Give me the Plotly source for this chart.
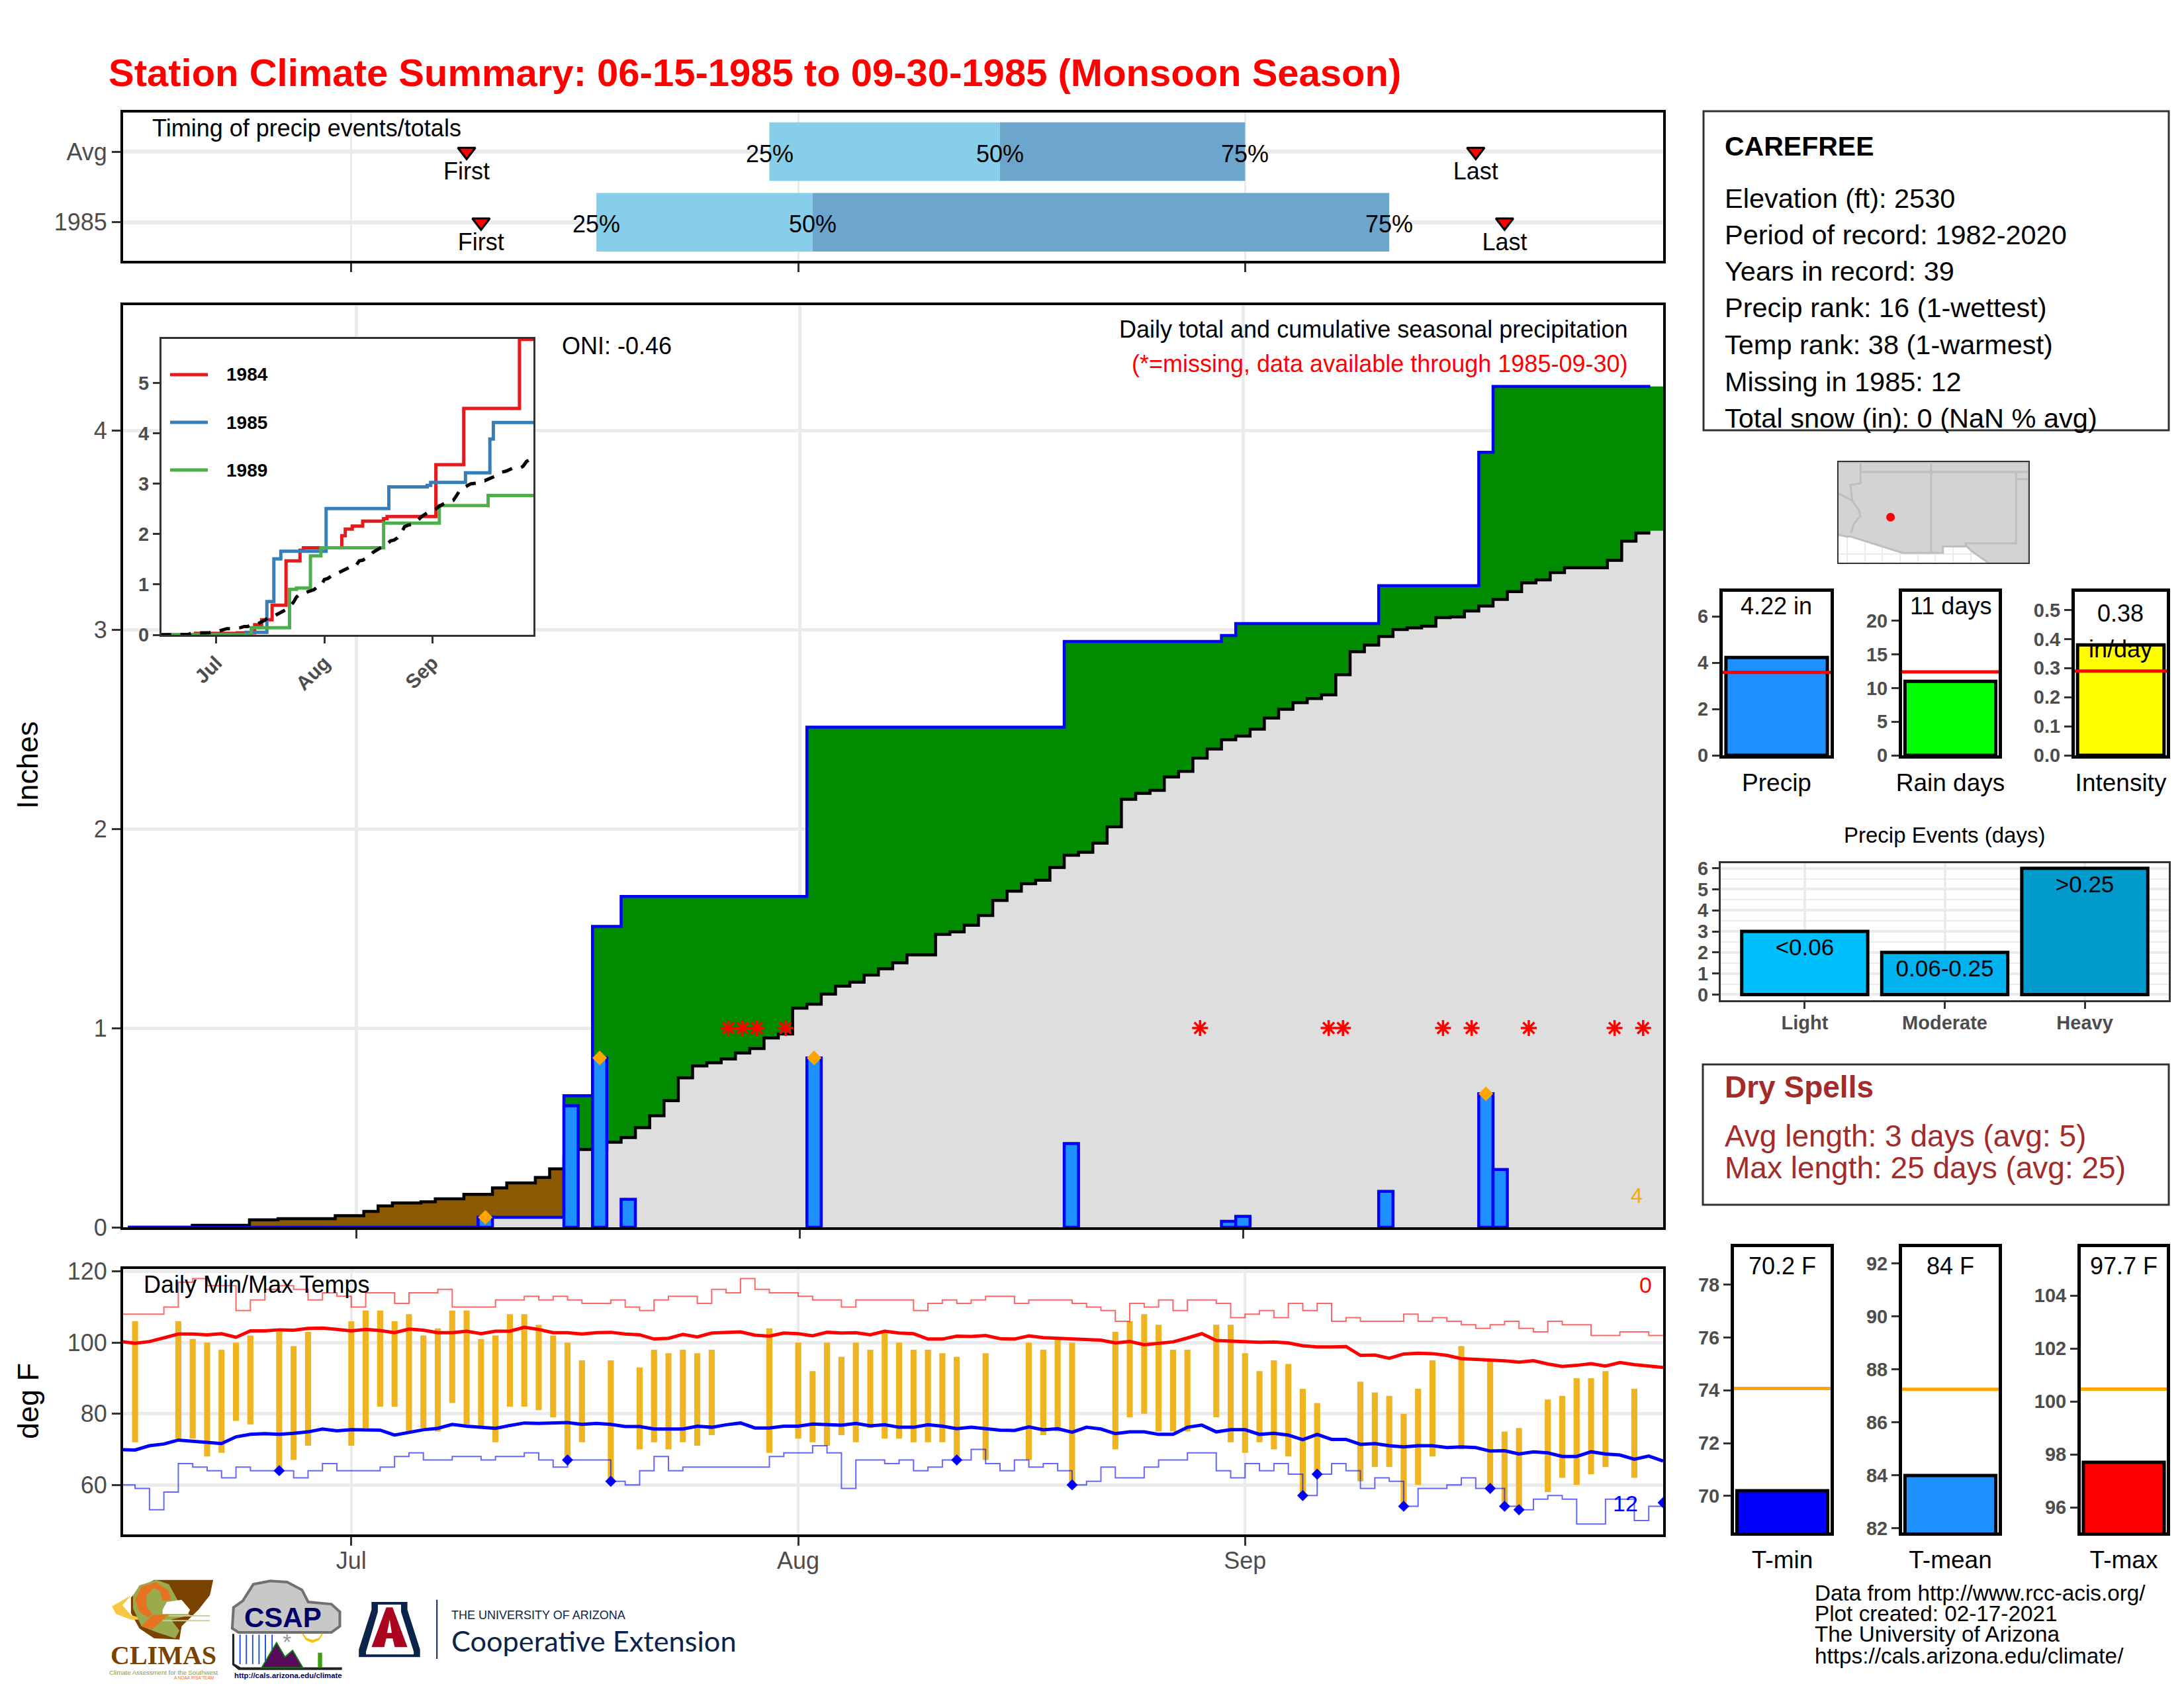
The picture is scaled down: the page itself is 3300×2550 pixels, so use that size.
# -*- coding: utf-8 -*-
"""Station climate summary, Carefree, monsoon season 1985"""
import numpy as np
import plotly.graph_objects as go

W, H = 3300, 2550
FONT = 'Liberation Sans'
GREY = '#4D4D4D'
GRID = '#EBEBEB'

# x axis is days since Jun 15
days = list(range(108))
month_ticks = [16, 47, 78]
month_labels = ['Jul', 'Aug', 'Sep']

# daily precip 1985: what the cumulative line adds, and the drawn bar heights
rain_days = [25, 31, 33, 35, 48, 66, 77, 78, 88, 95, 96]
rain_amounts = [0.05, 0.61, 0.85, 0.15, 0.85, 0.43, 0.03, 0.06, 0.19, 0.67, 0.33]
rain_bars = [0.05, 0.61, 0.85, 0.14, 0.85, 0.42, 0.03, 0.055, 0.18, 0.67, 0.29]
extreme_days = [25, 33, 48, 95]
extreme_amounts = [0.05, 0.85, 0.85, 0.67]
missing_days = [42, 43, 44, 46, 75, 84, 85, 92, 94, 98, 104, 106]

avg_cum = [0, 0, 0, 0, 0, .01, .01, .01, .01, .037,
           .037, .043, .043, .043, .043, .058, .058, .08, .107, .122,
           .122, .128, .143, .143, .165, .165, .198, .223, .223, .25,
           .293, .35, .39, .39, .427, .45, .50, .56, .635, .75,
           .81, .826, .845, .875, .897, .95, .97, 1.10, 1.12, 1.17,
           1.21, 1.23, 1.266, 1.297, 1.327, 1.367, 1.367, 1.47, 1.483, 1.516,
           1.565, 1.64, 1.687, 1.724, 1.742, 1.806, 1.867, 1.882, 1.928, 2.01,
           2.148, 2.178, 2.193, 2.26, 2.288, 2.355, 2.40, 2.447, 2.465, 2.50,
           2.556, 2.60, 2.633, 2.654, 2.672, 2.773, 2.889, 2.922, 2.965, 3.00,
           3.008, 3.017, 3.06, 3.063, 3.093, 3.118, 3.151, 3.19, 3.234, 3.249,
           3.286, 3.31, 3.31, 3.31, 3.347, 3.444, 3.484, 3.496]

# analog years in the inset, (first day at that level, level)
y1984_days = [0, 10, 22, 27, 29, 32, 36, 40, 41, 52, 53, 55, 58, 64, 65, 79, 87, 103]
y1984_vals = [0, .03, .04, .2, .3, .59, 1.47, 1.68, 1.73, 1.97, 2.10, 2.16, 2.26, 2.31, 2.35, 3.38, 4.5, 5.87]
y1989_days = [0, 26, 37, 39, 43, 46, 64, 80, 94]
y1989_vals = [0, .14, .906, .93, 1.57, 1.73, 2.22, 2.57, 2.77]

# timing of events
timing_rows = ['1985', 'Avg']
timing_q25 = [33, 45]
timing_q50 = [48, 61]
timing_q75 = [88, 78]
timing_first = [25, 24]
timing_last = [96, 94]

# daily temps
obs_days = [1, 4, 5, 6, 7, 8, 9, 11, 12, 13, 16, 17, 18, 19, 20, 21, 22, 23, 24, 25, 26, 27, 28, 29, 30, 31, 32,
            34, 36, 37, 38, 39, 40, 41, 45, 47, 48, 49, 50, 51, 52, 53, 54, 55, 56, 57, 58, 60, 63, 64, 65, 66,
            69, 70, 71, 72, 73, 74, 76, 77, 78, 79, 80, 81, 82, 83, 86, 87, 88, 89, 90, 91, 93, 95, 96, 97,
            99, 100, 101, 102, 103, 105]
obs_hi = [106, 106, 101, 100, 98, 100, 102, 103, 99, 103, 106, 109, 109, 106, 108, 102, 104, 109, 109, 101, 102,
          108, 108, 105, 102, 100, 95, 95, 93, 98, 97, 98, 97, 98, 104, 100, 92, 100, 96, 100, 98, 103, 100, 98,
          98, 97, 96, 97, 100, 98, 101, 100, 103, 106, 108, 105, 98, 98, 105, 105, 97, 92, 95, 94, 87, 83,
          89, 86, 85, 80, 87, 95, 99, 95, 75, 76, 84, 85, 90, 90, 92, 87]
obs_lo = [72, 73, 73, 68, 69, 78, 77, 64, 67, 71, 71, 76, 82, 82, 75, 76, 75, 83, 77, 76, 72, 82, 82, 81, 79, 67,
          72, 61, 70, 72, 70, 72, 71, 74, 69, 73, 72, 71, 74, 72, 76, 73, 73, 72, 72, 72, 67, 67, 67, 74, 75, 60,
          70, 79, 80, 75, 75, 75, 79, 72, 69, 72, 70, 68, 57, 63, 61, 65, 65, 54, 60, 68, 70, 59, 54, 53,
          58, 62, 60, 63, 65, 62]
record_low_days = [11, 31, 34, 58, 66, 82, 83, 89, 95, 96, 97, 107]
record_low_vals = [64, 67, 61, 67, 60, 57, 63, 54, 59, 54, 53, 55]

rec_hi = [108, 108, 108, 110, 117, 118, 116, 116, 109, 112,
          115, 116, 115, 112, 114, 113, 110, 114, 114, 111,
          114, 114, 115, 110, 110, 110, 112, 112, 113, 112,
          113, 112, 111, 111, 112, 110, 109, 112, 113, 113,
          111, 115, 114, 118, 115, 114, 114, 113, 112, 112,
          110, 112, 112, 112, 112, 109, 111, 112, 111, 112,
          113, 113, 111, 112, 112, 112, 111, 110, 109, 106,
          111, 110, 112, 109, 112, 112, 111, 107, 108, 109,
          107, 111, 109, 111, 106, 107, 106, 106, 106, 108,
          106, 107, 106, 105, 104, 105, 106, 104, 103, 106,
          105, 105, 102, 102, 103, 103, 102, 102]
rec_lo = [60, 59, 53, 58, 66, 65, 64, 62, 65, 64,
          64, 64, 62, 64, 66, 64, 64, 64, 65, 68,
          69, 67, 67, 68, 68, 67, 68, 68, 69, 67,
          65, 67, 67, 67, 61, 60, 64, 68, 64, 65,
          65, 65, 65, 65, 65, 68, 69, 69, 71, 69,
          59, 67, 67, 66, 67, 64, 65, 67, 67, 70,
          66, 64, 67, 65, 66, 64, 60, 61, 65, 62,
          62, 65, 67, 67, 69, 69, 64, 62, 66, 64,
          66, 63, 57, 63, 66, 64, 59, 62, 61, 54,
          59, 59, 60, 62, 59, 59, 54, 53, 56, 57,
          56, 49, 49, 56, 56, 50, 54, 54]
avg_hi = [100.3, 99.8, 100.3, 101.4, 102.4, 102.4, 102.2, 102.5, 101.5, 103.3,
          103.3, 103.6, 103.5, 104, 104.1, 103.7, 103.3, 103.7, 103.4, 102.8,
          103.8, 103.5, 102.8, 102.8, 103.2, 102.5, 103.2, 103.2, 104.3, 103.7,
          102.8, 102.8, 102.4, 102.8, 102.9, 102.4, 102.2, 101, 101.2, 102.3,
          101.6, 102.7, 102.8, 103, 102.1, 101.8, 102.7, 102.5, 101.9, 102.9,
          102.7, 102.8, 102.2, 103.2, 102.7, 102.5, 101, 101, 101.8, 101.7,
          102, 101.1, 101, 101.9, 101.4, 101.2, 101.2, 100.8, 100.7, 99.9,
          100.3, 99.4, 99.9, 100.2, 101.3, 102.5, 100.6, 100.4, 100.2, 100.1,
          100.2, 99.9, 99.1, 98.8, 98.8, 98.9, 96.4, 96.5, 95.6, 96.8,
          97, 96.9, 96.4, 95.5, 95.3, 95.2, 94.9, 94.5, 94.9, 94,
          93.3, 93.6, 94.1, 93.4, 94.4, 93.8, 93.4, 93]
avg_lo = [69.9, 69.8, 71, 71.5, 72.6, 72.3, 71.8, 71.6, 73.5, 74.2,
          74.4, 74.2, 74.5, 74.9, 75.7, 75.2, 75.5, 75.5, 75.4, 74,
          74.8, 75.5, 75.9, 77, 76.5, 76.2, 75.9, 76.7, 77.4, 77.3,
          77.3, 77.5, 77, 77.3, 77, 76.4, 76.4, 75.7, 75.7, 75.7,
          76.5, 76.2, 76.9, 77.4, 76, 76, 76.5, 76.5, 77.1, 77,
          76.8, 77.3, 76.6, 76.9, 76.2, 76.2, 76.9, 76.5, 75.8, 76.2,
          75.7, 75.4, 75.3, 76.3, 75.5, 75.8, 74.8, 76.2, 75.7, 74.4,
          74.9, 74.9, 74.2, 74.2, 76.2, 76.8, 74.9, 75.5, 75.5, 74.2,
          74.5, 74, 72.7, 74.2, 72.8, 72.8, 71.4, 71.6, 71, 70.7,
          71, 71, 70.5, 70.7, 70.5, 69.5, 69.6, 68.7, 69.3, 69,
          68, 68, 69.3, 68.7, 68.4, 67.2, 68.1, 66.7]

# summary bars
precip_total, precip_avg = 4.22, 3.58
raindays_total, raindays_avg = 11, 12.4
intensity_val, intensity_avg = 0.38, 0.29
event_labels = ['Light', 'Moderate', 'Heavy']
event_counts = [3, 2, 6]
event_ranges = ['<0.06', '0.06-0.25', '>0.25']
tmin_val, tmin_avg = 70.2, 74.07
tmean_val, tmean_avg = 84, 87.25
tmax_val, tmax_avg = 97.7, 100.46

# locator map
station_lon, station_lat = [-111.92], [33.83]
map_land_lon = [-115.6, -114.95, -114.81, -111.07, -108.21, -108.21, -106.53, -106.2, -104.97, -102.16, -102.16, -115.6]
map_land_lat = [32.6, 32.45, 32.49, 31.33, 31.33, 31.78, 31.78, 31.47, 30.6, 30.6, 37.7, 37.7]
map_lines_lon = [-114.04, -114.04, -114.75, -114.63, -114.14, -114.05, -114.5, -114.72, None,
                 -115.6, -114.63, None, -114.04, -102.16, None, -109.05, -109.05, None,
                 -103.04, -103.04, -106.62, -106.53, None, -103.04, -102.16, None, -114.04, -114.04]
map_lines_lat = [37, 36.2, 36.1, 35.0, 34.3, 33.9, 33.4, 32.72, None,
                 35.5, 35.0, None, 37, 37, None, 37.7, 31.33, None,
                 37, 32, 32, 31.78, None, 36.5, 36.5, None, 37.7, 37]

station_lines = ['Elevation (ft): 2530', 'Period of record: 1982-2020', 'Years in record: 39',
                 'Precip rank: 16 (1-wettest)', 'Temp rank: 38 (1-warmest)', 'Missing in 1985: 12',
                 'Total snow (in): 0 (NaN % avg)']
station_rows = [299, 354, 410, 465, 520, 577, 632]
credit_lines = ['Data from http://www.rcc-acis.org/', 'Plot created: 02-17-2021',
                'The University of Arizona', 'https://cals.arizona.edu/climate/']
credit_rows = [2406, 2437, 2468, 2501]

# browser body margin is 8px
OFF = 8


def px_x(x):
    return (x - OFF) / (W - 2 * OFF)


def px_y(y):
    return 1 - (y - OFF) / (H - 2 * OFF)


def dom_x(left, right):
    return [px_x(left), px_x(right)]


def dom_y(top, bottom):
    return [px_y(bottom), px_y(top)]


annotations = []
shapes = []


def txt(x, y, s, size, color='black', anchor='left', angle=0, family=FONT, weight=None):
    annotations.append(dict(
        x=px_x(x), y=px_y(y), xref='paper', yref='paper', text=s, showarrow=False,
        xanchor=anchor, yanchor='middle', textangle=angle,
        font=dict(size=size, color=color, family=family, weight=weight)
    ))


def box(left, top, right, bottom, color='#333333', width=3):
    shapes.append(dict(type='rect', xref='paper', yref='paper', x0=px_x(left), x1=px_x(right),
                       y0=px_y(bottom), y1=px_y(top), line=dict(color=color, width=width)))


def logo_poly(points, fill, line=None, width=0):
    # points read in the logo crop, 1.568 px wide and 3 px tall
    xy = ['%.5f,%.5f' % (px_x(150 + a / 1.568), px_y(2360 + b / 3)) for a, b in points]
    path = 'M' + ' L'.join(xy) + ' Z'
    shapes.append(dict(type='path', xref='paper', yref='paper', path=path, fillcolor=fill, layer='above',
                       line=dict(color=line or fill, width=width)))


fig = go.Figure()

# ---- main panel
precip_daily = np.zeros(108)
precip_daily[rain_days] = rain_amounts
cum = np.cumsum(precip_daily)
floor = np.minimum(cum, avg_cum)

# the fills run on to the frame, the outlines stop half a day earlier
fill_x = days + [107.5]
line_x = days[:107] + [106.5]


def upto_edge(series):
    return list(series) + [series[-1]]


fig.add_trace(go.Scatter(x=fill_x, y=upto_edge(avg_cum), mode='none', fill='tozeroy', fillcolor='#8B5A00',
                         line=dict(shape='hvh'), name='Avg deficit'))
fig.add_trace(go.Scatter(x=fill_x, y=upto_edge(cum), mode='none', fill='tozeroy', fillcolor='#008B00',
                         line=dict(shape='hvh'), name='Surplus'))
fig.add_trace(go.Scatter(x=fill_x, y=upto_edge(floor), mode='none', fill='tozeroy', fillcolor='#DEDEDE',
                         line=dict(shape='hvh'), name='Base'))
fig.add_trace(go.Scatter(x=line_x, y=upto_edge(avg_cum[:107]), mode='lines', line=dict(color='black', width=4.5, shape='hvh'),
                         name='Avg cumulative'))
fig.add_trace(go.Scatter(x=line_x, y=upto_edge(cum[:107]), mode='lines', line=dict(color='#0000FF', width=4.5, shape='hvh'),
                         name='Cumulative'))
# bars sit on an overlay so that they come out above the filled areas
tk = dict(xaxis='x13', yaxis='y13')
fig.add_trace(go.Bar(x=rain_days, y=rain_bars, width=1, marker=dict(color='#1E90FF', line=dict(color='#0000FF', width=4.5)),
                     name='Daily', **tk))
fig.add_trace(go.Scatter(x=extreme_days, y=extreme_amounts, mode='markers',
                         marker=dict(symbol='diamond', color='orange', size=17), name='Extreme', **tk))
fig.add_trace(go.Scatter(x=missing_days, y=[1] * len(missing_days), mode='markers',
                         marker=dict(symbol='asterisk', size=20, line=dict(color='red', width=3.5)), name='Missing', **tk))

# ---- timing panel
tk = dict(xaxis='x2', yaxis='y2')
fig.add_trace(go.Bar(y=timing_rows, base=timing_q25, x=np.subtract(timing_q50, timing_q25), orientation='h', width=0.83,
                     marker=dict(color='#87CEEB', line=dict(width=0)), **tk))
fig.add_trace(go.Bar(y=timing_rows, base=timing_q50, x=np.subtract(timing_q75, timing_q50), orientation='h', width=0.83,
                     marker=dict(color='#6CA6CD', line=dict(width=0)), **tk))
for vals, lab in zip([timing_q25, timing_q50, timing_q75], ['25%', '50%', '75%']):
    # annotations on a category axis take the row number
    for row, val in enumerate(vals):
        annotations.append(dict(x=val, y=row, xref='x2', yref='y2', text=lab, showarrow=False, yshift=-3,
                                font=dict(size=36, color='black', family=FONT)))
for vals, lab in zip([timing_first, timing_last], ['First', 'Last']):
    fig.add_trace(go.Scatter(x=vals, y=timing_rows, mode='markers+text', text=[lab, lab], textposition='bottom center',
                             textfont=dict(size=36, color='black', family=FONT),
                             marker=dict(symbol='triangle-down', color='red', size=23, line=dict(color='black', width=3)), **tk))

# ---- temperature panel
tk = dict(xaxis='x3', yaxis='y3')
fig.add_trace(go.Bar(x=obs_days, base=obs_lo, y=np.subtract(obs_hi, obs_lo), width=0.42,
                     marker=dict(color='#EEB422', line=dict(width=0)), **tk))
fig.add_trace(go.Scatter(x=days, y=rec_hi, mode='lines', line=dict(color='rgba(255,0,0,0.6)', width=2, shape='hv'), **tk))
fig.add_trace(go.Scatter(x=days, y=rec_lo, mode='lines', line=dict(color='rgba(0,0,255,0.6)', width=2, shape='hv'), **tk))
fig.add_trace(go.Scatter(x=days, y=avg_hi, mode='lines', line=dict(color='#FF0000', width=5), **tk))
fig.add_trace(go.Scatter(x=days, y=avg_lo, mode='lines', line=dict(color='#0000FF', width=5), **tk))
fig.add_trace(go.Scatter(x=record_low_days, y=record_low_vals, mode='markers',
                         marker=dict(symbol='diamond', color='#0000FF', size=13), **tk))

# ---- inset
tk = dict(xaxis='x4', yaxis='y4')
fig.add_trace(go.Scatter(x=y1984_days + [107], y=y1984_vals + [5.87], mode='lines', line=dict(color='#E41A1C', width=5, shape='hv'), **tk))
fig.add_trace(go.Scatter(x=days, y=cum, mode='lines', line=dict(color='#377EB8', width=5, shape='hvh'), **tk))
fig.add_trace(go.Scatter(x=y1989_days + [107], y=y1989_vals + [2.77], mode='lines', line=dict(color='#4DAF4A', width=5, shape='hv'), **tk))
fig.add_trace(go.Scatter(x=days, y=avg_cum, mode='lines', line=dict(color='black', width=5, dash='16px,14px'), **tk))

# ---- locator map
tk = dict(xaxis='x5', yaxis='y5')
fig.add_trace(go.Scatter(x=map_land_lon, y=map_land_lat, mode='lines', fill='toself', fillcolor='#D3D3D3',
                         line=dict(color='#BEBEBE', width=3), **tk))
fig.add_trace(go.Scatter(x=map_lines_lon, y=map_lines_lat, mode='lines', line=dict(color='#BEBEBE', width=3), **tk))
fig.add_trace(go.Scatter(x=station_lon, y=station_lat, mode='markers', marker=dict(color='red', size=13), **tk))

# ---- small bars
small = [('6', precip_total, precip_avg, '#1E90FF', 'red'),
         ('7', raindays_total, raindays_avg, '#00FF00', 'red'),
         ('8', intensity_val, intensity_avg, '#FFFF00', 'red'),
         ('10', tmin_val, tmin_avg, '#0000FF', 'orange'),
         ('11', tmean_val, tmean_avg, '#1E90FF', 'orange'),
         ('12', tmax_val, tmax_avg, '#FF0000', 'orange')]
for ax, val, avg, col, avgcol in small:
    tk = dict(xaxis='x' + ax, yaxis='y' + ax)
    fig.add_trace(go.Bar(x=[0], y=[val], width=0.94, marker=dict(color=col, line=dict(color='black', width=5)), **tk))
    fig.add_trace(go.Scatter(x=[-0.5, 0.5], y=[avg, avg], mode='lines', line=dict(color=avgcol, width=5), **tk))

# ---- precip events
tk = dict(xaxis='x9', yaxis='y9')
fig.add_trace(go.Bar(x=event_labels, y=event_counts, width=0.9,
                     marker=dict(color=['#00BFFF', '#00B2EE', '#009ACD'], line=dict(color='black', width=5)), **tk))
fig.add_trace(go.Scatter(x=event_labels, y=event_counts, mode='markers+text', text=event_ranges, textposition='bottom center',
                         marker=dict(size=14, opacity=0),
                         textfont=dict(size=35, color='black', family=FONT), **tk))

# ---- axes
frame = dict(showline=True, mirror=True, linecolor='black', linewidth=4, zeroline=False,
             ticks='outside', tickcolor='#333333', tickwidth=3, ticklen=13,
             tickfont=dict(size=36, color=GREY, family=FONT))
months = dict(tickmode='array', tickvals=month_ticks, showgrid=True, gridcolor=GRID)
# the main panel runs a little wider in days than the two panels around it
main_range = [-0.34, 107.4]
side_range = [0.17, 107]

layout = dict(
    xaxis=dict(domain=dom_x(186, 2513), range=main_range, ticktext=['', '', ''], gridwidth=5, **months, **frame),
    yaxis=dict(domain=dom_y(461, 1854), range=[0, 4.628], tickvals=[0, 1, 2, 3, 4], showgrid=True, gridcolor=GRID, gridwidth=5, **frame),
    xaxis2=dict(domain=dom_x(186, 2513), range=side_range, anchor='y2', ticktext=['', '', ''], gridwidth=3, **months, **frame),
    yaxis2=dict(domain=dom_y(170, 394), range=[-0.546, 1.553], anchor='x2', type='category', showgrid=True, gridcolor=GRID, gridwidth=6,
                categoryorder='array', categoryarray=timing_rows, **frame),
    xaxis3=dict(domain=dom_x(186, 2513), range=side_range, anchor='y3', ticktext=month_labels, gridwidth=4, ticklabelstandoff=-8, **months, **frame),
    yaxis3=dict(domain=dom_y(1917, 2318), range=[46.07, 120.7], anchor='x3', tickvals=[60, 80, 100, 120], showgrid=True, gridcolor=GRID, gridwidth=5, **frame),
    xaxis13=dict(overlaying='x', anchor='y13', range=main_range, visible=False),
    yaxis13=dict(overlaying='y', anchor='x13', range=[0, 4.628], visible=False),
)
thin = dict(frame, linewidth=3, linecolor='#333333', ticklen=10)
layout['xaxis4'] = dict(thin, domain=dom_x(244, 806), range=[0.25, 107], anchor='y4', tickmode='array', tickvals=month_ticks,
                        ticktext=month_labels, tickangle=-45, showgrid=False,
                        tickfont=dict(size=30, color=GREY, family=FONT, weight='bold'))
layout['yaxis4'] = dict(thin, domain=dom_y(512, 959), range=[0, 5.88], anchor='x4', tickvals=[0, 1, 2, 3, 4, 5], showgrid=False,
                        tickfont=dict(size=29, color=GREY, family=FONT, weight='bold'))
layout['xaxis5'] = dict(domain=dom_x(2778, 3065), range=[-115.6, -102.16], anchor='y5', showticklabels=False, ticks='',
                        showgrid=True, gridcolor=GRID, gridwidth=2, dtick=1.25, zeroline=False,
                        showline=True, mirror=True, linecolor='#333333', linewidth=2)
layout['yaxis5'] = dict(domain=dom_y(698, 850), range=[30.64, 37.7], anchor='x5', showticklabels=False, ticks='',
                        showgrid=True, gridcolor=GRID, gridwidth=2, dtick=1.25, zeroline=False,
                        showline=True, mirror=True, linecolor='#333333', linewidth=2)

small_geom = {
    '6': ('Precip', (2603, 2766), (894, 1141), [0, 7.06], [0, 2, 4, 6]),
    '7': ('Rain days', (2874, 3020), (894, 1141), [0, 24.3], [0, 5, 10, 15, 20]),
    '8': ('Intensity', (3135, 3274), (894, 1141), [0, 0.5626], [0, .1, .2, .3, .4, .5]),
    '10': ('T-min', (2620, 2766), (1884, 2315), [68.62, 79.415], [70, 72, 74, 76, 78]),
    '11': ('T-mean', (2874, 3020), (1884, 2315), [81.85, 92.615], [82, 84, 86, 88, 90, 92]),
    '12': ('T-max', (3144, 3274), (1884, 2315), [95.05, 105.825], [96, 98, 100, 102, 104]),
}
bold_ticks = dict(size=29, color=GREY, family=FONT, weight='bold')
for ax, (lab, xs, ys, yr, yt) in small_geom.items():
    layout['xaxis' + ax] = dict(domain=dom_x(*xs), range=[-0.5, 0.5], anchor='y' + ax, tickvals=[0], ticktext=[lab], showline=True, mirror=True,
                                linecolor='black', linewidth=5, ticks='', zeroline=False, showgrid=False, ticklabelstandoff=5,
                                tickfont=dict(size=37, color='black', family=FONT))
    layout['yaxis' + ax] = dict(domain=dom_y(*ys), range=yr, anchor='x' + ax, tickvals=yt, showline=True, mirror=True,
                                linecolor='black', linewidth=5, ticks='outside', ticklen=11, tickwidth=3, tickcolor='#333333',
                                zeroline=False, showgrid=False, tickfont=bold_ticks,
                                tickformat='.1f' if ax == '8' else None)
layout['xaxis9'] = dict(domain=dom_x(2600, 3277), range=[-0.6, 2.6], anchor='y9', type='category', showline=True, mirror=True,
                        linecolor='#333333', linewidth=3, ticks='outside', ticklen=10, tickwidth=3, tickcolor='#333333', ticklabelstandoff=-4,
                        zeroline=False, showgrid=True, gridcolor=GRID, gridwidth=4, tickfont=bold_ticks)
layout['yaxis9'] = dict(domain=dom_y(1304, 1511), range=[-0.27, 6.24], anchor='x9', tickvals=[0, 1, 2, 3, 4, 5, 6], showline=True, mirror=True,
                        linecolor='#333333', linewidth=3, ticks='outside', ticklen=10, tickwidth=3, tickcolor='#333333',
                        zeroline=False, showgrid=True, gridcolor=GRID, gridwidth=4, tickfont=bold_ticks,
                        minor=dict(dtick=0.5, showgrid=True, gridcolor=GRID, gridwidth=2, ticks=''))

# white area behind the inset hides the main grid
shapes.append(dict(type='rect', xref='x domain', yref='y domain', layer='below', x0=0, x1=(825 - 186) / 2327,
                   y0=(1854 - 1057) / 1393, y1=(1854 - 490) / 1393, fillcolor='white', line=dict(width=0)))

# ---- text
txt(162, 110, '<b>Station Climate Summary: 06-15-1985 to 09-30-1985 (Monsoon Season)</b>', 58, 'red')
txt(228, 193, 'Timing of precip events/totals', 36)
txt(847, 523, 'ONI: -0.46', 36)
txt(2461, 497, 'Daily total and cumulative seasonal precipitation', 36, anchor='right')
txt(2461, 549, '(*=missing, data available through 1985-09-30)', 36, 'red', anchor='right')
txt(2473, 1806, '4', 32, 'orange', anchor='center')
txt(215, 1940, 'Daily Min/Max Temps', 36)
txt(2486, 1941, '0', 34, 'red', anchor='center')
txt(2456, 2271, '12', 34, '#0000FF', anchor='center')
txt(42, 1156, 'Inches', 45, anchor='center', angle=-90)
txt(42, 2117, 'deg F', 45, anchor='center', angle=-90)

# inset key
for lab, col, yy in zip(['1984', '1985', '1989'], ['#E41A1C', '#377EB8', '#4DAF4A'], [566, 638, 710]):
    shapes.append(dict(type='line', xref='paper', yref='paper', x0=px_x(257), x1=px_x(314), y0=px_y(yy), y1=px_y(yy),
                       line=dict(color=col, width=5)))
    txt(340, yy, lab, 28, weight='bold')

box(2574, 168, 3277, 650)
txt(2604, 221, 'CAREFREE', 41, weight='bold')
for s, yy in zip(station_lines, station_rows):
    txt(2604, yy, s, 41.5)

txt(2684, 915, '4.22 in', 36, anchor='center')
txt(2947, 915, '11 days', 36, anchor='center')
txt(3204, 927, '0.38', 36, anchor='center')
txt(3204, 980, 'in/day', 36, anchor='center')
txt(2938, 1261, 'Precip Events (days)', 33, anchor='center')

box(2573, 1608, 3277, 1820)
txt(2604, 1642, 'Dry Spells', 46, '#A52A2A', weight='bold')
txt(2604, 1716, 'Avg length: 3 days (avg: 5)', 46, '#A52A2A')
txt(2604, 1764, 'Max length: 25 days (avg: 25)', 46, '#A52A2A')

txt(2693, 1912, '70.2 F', 36, anchor='center')
txt(2947, 1912, '84 F', 36, anchor='center')
txt(3209, 1912, '97.7 F', 36, anchor='center')
for s, yy in zip(credit_lines, credit_rows):
    txt(2740, yy, s, 33.3)

# ---- logos
BROWN = '#7A4300'
logo_poly([(130, 80), (270, 80), (262, 150), (235, 215), (195, 290), (190, 350), (130, 345), (95, 300), (75, 230), (75, 160), (100, 110)], BROWN)
logo_poly([(30, 200), (75, 150), (55, 195), (75, 240), (115, 260), (75, 260), (40, 235)], '#F5C842')
logo_poly([(95, 105), (135, 80), (165, 100), (185, 170), (215, 240), (170, 260), (190, 310), (180, 345), (140, 320), (100, 290), (80, 210), (80, 150)], '#9AAB4E')
logo_poly([(85, 170), (100, 110), (135, 90), (165, 130), (170, 170), (150, 175), (145, 135), (130, 115), (112, 150), (112, 200), (125, 235), (115, 250), (95, 225)], '#E57322')
logo_poly([(150, 215), (160, 180), (195, 170), (215, 215), (210, 235), (150, 235)], 'white')
logo_poly([(100, 290), (125, 240), (165, 235), (125, 305)], '#E57322')
logo_poly([(165, 240), (262, 240), (262, 246), (165, 246)], '#C8D09A')
logo_poly([(150, 262), (262, 262), (262, 268), (150, 268)], '#C8D09A')
txt(247, 2500, 'CLIMAS', 40, BROWN, anchor='center', family='Liberation Serif', weight='bold')
txt(247, 2526, 'Climate Assessment for the Southwest', 9.6, '#8A9A3C', anchor='center')
txt(325, 2534, 'A NOAA RISA TEAM', 6.5, '#E57322', anchor='right')

logo_poly([(330, 318), (550, 318), (570, 290), (570, 225), (550, 190), (495, 180), (480, 125), (445, 90), (405, 85), (365, 100), (340, 175), (318, 205), (315, 300)],
          '#C8C8C8', '#707070', 4)
txt(150 + 435 / 1.568, 2360 + 250 / 3, 'CSAP', 42, '#000066', anchor='center', weight='bold')
for rx in [332, 347, 362, 377, 392, 408]:
    logo_poly([(rx, 328), (rx + 3, 328), (rx + 3, 462), (rx, 462)], '#1F4FE0')
logo_poly([(315, 325), (320, 325), (320, 460), (335, 476), (575, 476), (575, 488), (330, 488), (315, 465)], '#222222')
logo_poly([(385, 478), (420, 365), (440, 430), (458, 400), (482, 478)], '#5A0A5A', '#0A7A0A', 2)
logo_poly([(482, 325), (490, 350), (505, 362), (520, 350), (528, 325), (522, 345), (505, 355), (490, 345)], '#F5C400', '#F5C400', 2)
logo_poly([(518, 410), (528, 410), (528, 478), (518, 478)], '#3FA010')
txt(150 + 444 / 1.568, 2360 + 360 / 3, '*', 34, '#9A9A9A', anchor='center')
txt(150 + 448 / 1.568, 2531, 'http://cals.arizona.edu/climate', 11.4, '#000066', anchor='center', weight='bold')

UA_NAVY = '#0C234B'
logo_poly([(645, 180), (730, 180), (730, 215), (760, 395), (760, 430), (615, 430), (615, 395), (645, 215)], UA_NAVY)
logo_poly([(660, 192), (715, 192), (715, 225), (745, 405), (745, 418), (632, 418), (632, 405), (660, 225)], 'white')
logo_poly([(680, 205), (695, 205), (730, 385), (700, 385), (695, 345), (680, 345), (675, 385), (645, 385)], '#AB0520')
logo_poly([(682, 320), (693, 320), (688, 260)], 'white')
shapes.append(dict(type='line', xref='paper', yref='paper', x0=px_x(150 + 800 / 1.568), x1=px_x(150 + 800 / 1.568),
                   y0=px_y(2360 + 170 / 3), y1=px_y(2360 + 438 / 3), line=dict(color=UA_NAVY, width=2)))
txt(680, 2440, 'THE UNIVERSITY OF ARIZONA', 18, UA_NAVY)
txt(680, 2478, 'Cooperative Extension', 43.3, UA_NAVY, family='Lato')

fig.update_layout(
    **layout,
    template='none',
    annotations=annotations,
    shapes=shapes,
    barmode='overlay',
    showlegend=False,
    plot_bgcolor='white',
    paper_bgcolor='white',
    font=dict(family=FONT),
    autosize=False,
    width=W - 2 * OFF,
    height=H - 2 * OFF,
    margin=dict(l=0, r=0, t=0, b=0, pad=0)
)

fig.write_html("out.html")
